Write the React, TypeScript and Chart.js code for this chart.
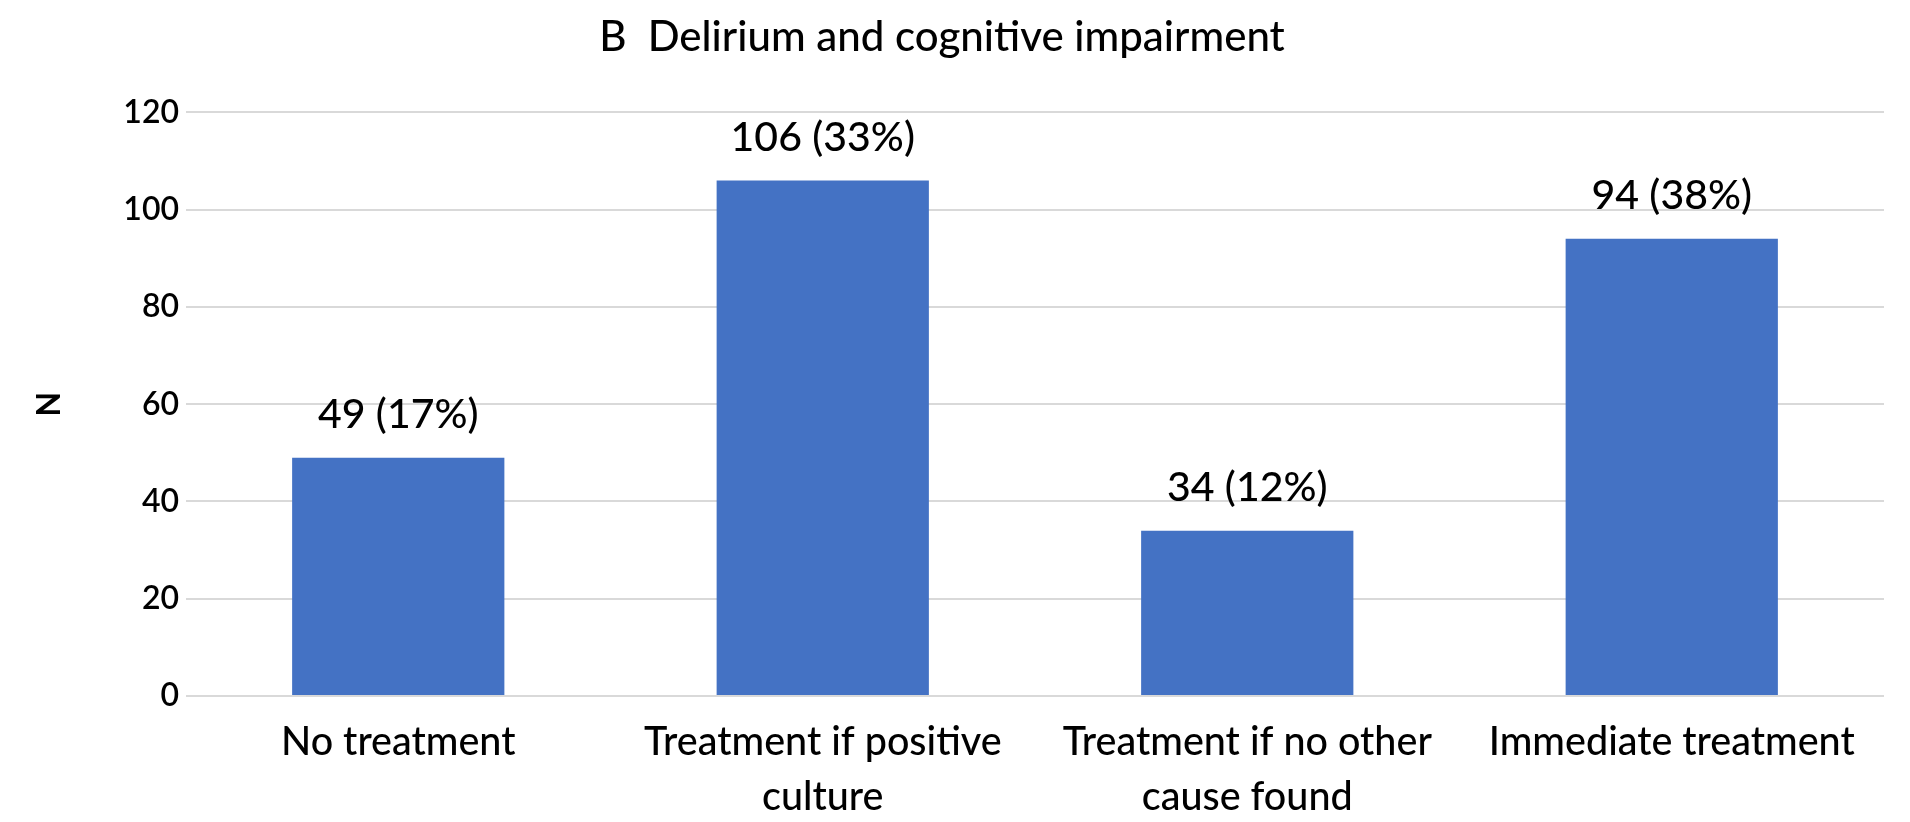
import React, { useEffect, useRef } from "react";
import { Chart, registerables } from "chart.js";

Chart.register(...registerables);

const TITLE = "B  Delirium and cognitive impairment";
const categories: string[][] = [
  ["No treatment"],
  ["Treatment if positive", "culture"],
  ["Treatment if no other", "cause found"],
  ["Immediate treatment"],
];
const counts: number[] = [49, 106, 34, 94];
const percents: number[] = [17, 33, 12, 38];
const yTicks: number[] = [0, 20, 40, 60, 80, 100, 120];

const FONT = "Lato, 'Open Sans', sans-serif";
const BAR_COLOR = "#4472C4";

const dataLabelPlugin = {
  id: "dataLabels",
  afterDatasetsDraw(chart: any) {
    const ctx = chart.ctx;
    const meta = chart.getDatasetMeta(0);
    ctx.save();
    ctx.font = `500 41px ${FONT}`;
    ctx.fillStyle = "#000";
    ctx.textAlign = "center";
    ctx.textBaseline = "middle";
    meta.data.forEach((bar: any, i: number) => {
      ctx.fillText(`${counts[i]} (${percents[i]}%)`, bar.x, bar.y - 43);
    });
    ctx.restore();
  },
};

export default function App() {
  const ref = useRef<HTMLCanvasElement | null>(null);
  useEffect(() => {
    document.body.style.margin = "0";
    const canvas = ref.current;
    if (!canvas) return;
    const chart = new Chart(canvas, {
      type: "bar",
      data: {
        labels: categories,
        datasets: [
          {
            data: counts,
            backgroundColor: BAR_COLOR,
            borderWidth: 0,
            categoryPercentage: 1,
            barPercentage: 0.5,
          },
        ],
      },
      options: {
        responsive: false,
        animation: false,
        layout: { padding: { left: 0, right: 26, top: 0, bottom: 0 } },
        plugins: {
          legend: { display: false },
          tooltip: { enabled: false },
          title: {
            display: true,
            text: TITLE,
            color: "#000",
            font: { family: FONT, size: 42, weight: 500, lineHeight: 1.2 },
            padding: { top: 12, bottom: 50 },
          },
        },
        scales: {
          x: {
            grid: { display: false, drawTicks: false },
            border: { display: false },
            ticks: {
              color: "#000",
              padding: 19,
              maxRotation: 0,
              autoSkip: false,
              font: { family: FONT, size: 39.5, weight: 500, lineHeight: 1.39 },
            },
            afterFit(scale: any) {
              scale.height = 126;
            },
          },
          y: {
            min: 0,
            max: 120,
            afterBuildTicks(scale: any) {
              scale.ticks = yTicks.map((v) => ({ value: v }));
            },
            grid: { color: "#d9d9d9", lineWidth: 2, drawTicks: false },
            border: { display: false },
            ticks: {
              color: "#000",
              padding: 7,
              font: { family: FONT, size: 32, weight: 600 },
            },
            title: {
              display: true,
              text: "N",
              color: "#000",
              font: { family: FONT, size: 32, weight: "bold", lineHeight: 1.2 },
              padding: { top: 30, bottom: 0 },
            },
            afterFit(scale: any) {
              scale.width = 186;
            },
          },
        },
      },
      plugins: [dataLabelPlugin],
    });
    return () => chart.destroy();
  }, []);
  return (
    <div style={{ position: "fixed", left: 0, top: 0, width: 1910, height: 822, background: "#fff" }}>
      <canvas ref={ref} width={1910} height={822} />
    </div>
  );
}
